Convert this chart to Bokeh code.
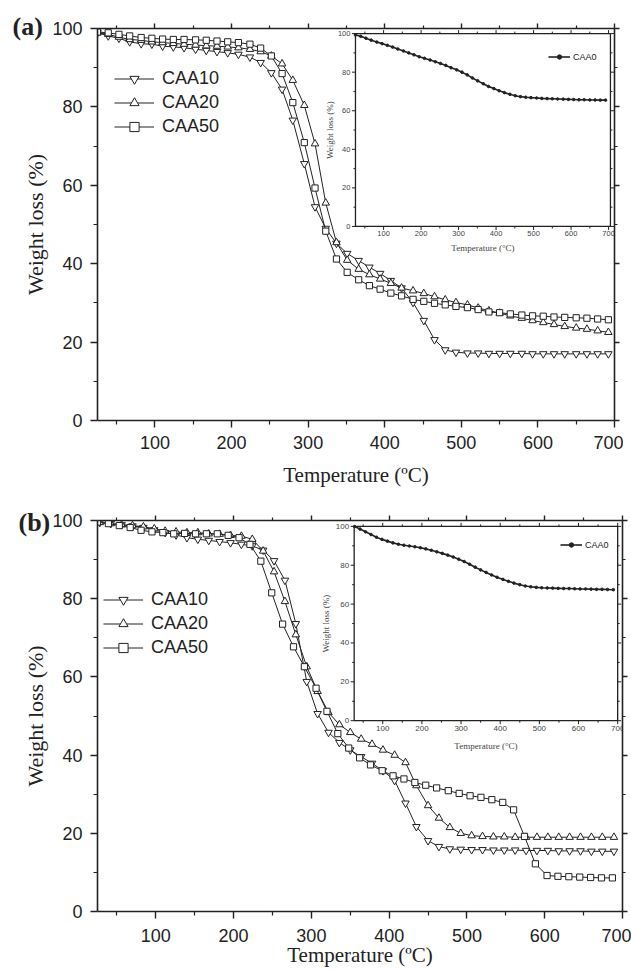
import math
from bokeh.plotting import figure
from bokeh.layouts import column
from bokeh.models import Range1d, LinearAxis, FixedTicker, Legend, LegendItem
from bokeh.core.properties import value
from bokeh.embed import file_html
from bokeh.resources import INLINE

# ---------------- data : panel (a) ----------------
temp_a = [25, 39, 53, 67, 82, 96, 110, 124, 138, 153, 167, 181, 195, 209, 224, 238,
          252, 266, 280, 295, 309, 323, 337, 351, 366, 380, 394, 408, 422, 437, 451, 465,
          479, 493, 508, 522, 536, 550, 564, 579, 593, 607, 621, 635, 650, 664, 678, 692]
caa10_a = [98.9, 98.1, 97.5, 96.6, 96.1, 96.0, 95.5, 95.3, 95.1, 94.7, 94.4, 94.1, 93.8, 93.4, 92.7, 91.3,
           88.7, 84.5, 76.6, 65.5, 54.5, 49.0, 45.2, 42.6, 40.8, 39.1, 37.5, 35.7, 33.8, 30.1, 25.5, 20.6,
           18.0, 17.4, 17.2, 17.2, 17.1, 17.1, 17.1, 17.1, 17.0, 17.0, 17.0, 17.0, 17.0, 17.0, 17.0, 17.0]
caa20_a = [98.9, 98.5, 97.8, 97.2, 97.0, 96.6, 96.4, 96.2, 96.0, 95.8, 95.6, 95.5, 95.3, 95.1, 94.7, 94.1,
           93.0, 91.0, 86.8, 80.4, 70.6, 55.5, 45.4, 40.9, 38.6, 37.2, 36.1, 35.0, 33.8, 33.1, 32.4, 31.6,
           30.8, 30.1, 29.5, 28.7, 28.0, 27.4, 26.7, 26.1, 25.5, 25.0, 24.5, 24.0, 23.6, 23.3, 22.9, 22.5]
caa50_a = [99.1, 98.9, 98.5, 98.1, 97.7, 97.5, 97.3, 97.2, 97.2, 97.1, 97.0, 96.8, 96.6, 96.4, 96.0, 95.0,
           93.0, 88.5, 81.1, 70.9, 59.3, 48.3, 41.2, 37.8, 35.9, 34.4, 33.5, 32.5, 31.8, 30.9, 30.4, 29.9,
           29.5, 29.1, 28.8, 28.3, 27.7, 27.5, 27.2, 26.9, 26.7, 26.6, 26.4, 26.3, 26.2, 26.1, 25.9, 25.7]
caa0_a = [99.3, 98.6, 97.6, 96.6, 95.6, 94.8, 93.9, 93.0, 92.0, 91.0, 90.0, 89.0, 88.0, 87.2, 86.3, 85.4,
          84.5, 83.5, 82.3, 81.2, 80.0, 78.6, 77.0, 75.5, 74.0, 72.6, 71.5, 70.4, 69.4, 68.5, 67.8, 67.3,
          67.0, 66.8, 66.6, 66.4, 66.3, 66.2, 66.1, 66.0, 65.9, 65.8, 65.7, 65.7, 65.6, 65.6, 65.5, 65.5]

# ---------------- data : panel (b) ----------------
temp_b = [28, 42, 56, 70, 84, 98, 112, 126, 140, 154, 168, 182, 196, 210, 224, 238,
          252, 266, 280, 294, 308, 322, 336, 350, 364, 378, 392, 407, 421, 435, 450, 464,
          478, 492, 506, 520, 534, 548, 562, 576, 590, 604, 618, 632, 646, 660, 674, 689]
temp_b50 = [25, 39, 53, 67, 81, 95, 109, 123, 137, 151, 165, 179, 193, 207, 221, 235,
            249, 263, 277, 291, 306, 320, 334, 348, 362, 376, 391, 405, 419, 433, 447, 461,
            476, 490, 504, 518, 532, 546, 560, 574, 588, 603, 617, 631, 645, 659, 673, 687]
caa10_b = [99.5, 99.2, 98.9, 98.6, 98.2, 97.6, 96.9, 96.3, 95.6, 95.2, 94.9, 94.6, 94.3, 93.9, 93.5, 92.4,
           89.7, 84.7, 73.6, 58.8, 50.6, 45.8, 43.2, 41.3, 39.6, 37.9, 36.0, 33.5, 27.7, 21.7, 18.1, 16.6,
           16.0, 15.9, 15.8, 15.8, 15.7, 15.7, 15.7, 15.6, 15.6, 15.6, 15.5, 15.5, 15.5, 15.4, 15.4, 15.4]
caa20_b = [99.5, 99.2, 98.9, 98.7, 98.4, 97.9, 97.3, 97.1, 96.9, 96.9, 96.6, 96.5, 96.2, 96.0, 95.2, 92.2,
           86.9, 79.3, 70.8, 62.6, 56.3, 50.9, 47.8, 45.8, 44.1, 42.8, 41.3, 40.0, 38.1, 32.2, 27.1, 23.9,
           21.5, 20.0, 19.4, 19.2, 19.1, 19.1, 19.0, 19.0, 19.0, 19.0, 19.0, 19.0, 19.0, 19.0, 19.0, 19.0]
caa50_b = [99.6, 99.2, 98.7, 98.2, 97.5, 97.1, 96.9, 96.6, 96.7, 96.6, 96.6, 96.6, 96.2, 95.6, 93.9, 89.6,
           81.5, 73.5, 67.7, 62.6, 57.1, 51.2, 45.5, 41.8, 39.3, 37.5, 36.0, 34.7, 33.9, 33.0, 32.3, 31.6,
           30.9, 30.2, 29.6, 29.2, 28.6, 27.9, 26.0, 19.2, 12.2, 9.2, 9.0, 8.9, 8.8, 8.7, 8.6, 8.6]
caa0_b = [99.9, 98.6, 97.2, 95.8, 94.4, 93.3, 92.4, 91.5, 90.8, 90.3, 89.9, 89.5, 89.0, 88.4, 87.7, 86.9,
          86.1, 85.2, 84.2, 83.1, 81.9, 80.5, 79.0, 77.6, 76.3, 75.0, 73.8, 72.7, 71.7, 70.8, 70.0, 69.3,
          68.9, 68.6, 68.4, 68.3, 68.2, 68.1, 68.0, 68.0, 67.9, 67.8, 67.8, 67.7, 67.6, 67.6, 67.5, 67.4]

series_names = ["CAA10", "CAA20", "CAA50"]
inset_name = "CAA0"
panel_tags = ["(a)", "(b)"]

# ---------------- ticks ----------------
x_major_ticks = [100, 200, 300, 400, 500, 600, 700]
x_minor_ticks = [50, 150, 250, 350, 450, 550, 650]
y_major_ticks = [0, 20, 40, 60, 80, 100]
y_minor_ticks = [10, 30, 50, 70, 90]
x_tick_labels = ["100", "200", "300", "400", "500", "600", "700"]
y_tick_labels = ["0", "20", "40", "60", "80", "100"]

INK = "#222222"
SANS = "Liberation Sans"
SERIF = "Liberation Serif"
MARKERS = [("inverted_triangle", 7.5), ("triangle", 7.5), ("square", 6.2)]


def style_axis(ax, ticks, minor, labels=True):
    ax.ticker = FixedTicker(ticks=ticks, minor_ticks=minor)
    ax.axis_line_color = INK
    ax.axis_line_width = 1.6
    ax.major_tick_line_color = INK
    ax.major_tick_line_width = 1.4
    ax.minor_tick_line_color = INK
    ax.minor_tick_line_width = 1.2
    ax.major_tick_in = 0
    ax.minor_tick_in = 0
    if labels:
        ax.major_tick_out = 7
        ax.minor_tick_out = 4
        ax.major_label_text_font = SANS
        ax.major_label_text_font_size = "18px"
        ax.major_label_text_color = INK
        ax.axis_label_text_font = SERIF
        ax.axis_label_text_font_size = "21px"
        ax.axis_label_text_font_style = "normal"
        ax.axis_label_text_color = INK
    else:
        ax.major_tick_out = 5
        ax.minor_tick_out = 3
        ax.major_label_overrides = {t: "" for t in ticks}
        ax.major_label_standoff = 0
        ax.major_label_text_font_size = "1px"


def build_panel(cfg, temps, vals, t0, w0):
    p = figure(width=cfg["width"], height=cfg["height"],
               x_range=Range1d(25, 700), y_range=Range1d(0, 100),
               output_backend="svg", toolbar_location=None,
               min_border_left=cfg["bl"], min_border_right=cfg["br"],
               min_border_top=cfg["bt"], min_border_bottom=cfg["bb"])
    p.xgrid.visible = False
    p.ygrid.visible = False
    p.outline_line_color = None
    p.background_fill_color = "white"
    p.border_fill_color = "white"

    xa = p.xaxis[0]
    ya = p.yaxis[0]
    style_axis(xa, x_major_ticks, x_minor_ticks)
    style_axis(ya, y_major_ticks, y_minor_ticks)
    xa.axis_label = "Temperature (ºC)"
    ya.axis_label = "Weight loss (%)"
    ya.axis_label_text_font_size = "22px"
    xa.major_label_standoff = cfg["xls"]
    xa.axis_label_standoff = cfg["xas"]
    ya.major_label_standoff = 8
    ya.axis_label_standoff = 1

    top = LinearAxis()
    style_axis(top, x_major_ticks, x_minor_ticks, labels=False)
    p.add_layout(top, "above")
    right = LinearAxis()
    style_axis(right, y_major_ticks, y_minor_ticks, labels=False)
    p.add_layout(right, "right")

    items = []
    for T, W, (mk, ms), name in zip(temps, vals, MARKERS, series_names):
        ln = p.line(T, W, line_color=INK, line_width=1.0)
        sc = p.scatter(T, W, marker=mk, size=ms, fill_color="white",
                       line_color=INK, line_width=1)
        items.append(LegendItem(label=name, renderers=[ln, sc]))
    leg = Legend(items=items, location=cfg["leg"], glyph_width=40, glyph_height=23,
                 label_height=23, spacing=1, label_standoff=8, padding=0, margin=0,
                 border_line_color=None, background_fill_alpha=0,
                 label_text_font=SANS, label_text_font_size="18px",
                 label_text_color=INK)
    p.add_layout(leg)

    # ----- inset -----
    sx0, sx1 = cfg["src_x"]
    sub = p.subplot(x_source=Range1d(sx0, sx1), y_source=Range1d(0, 100),
                    x_target=Range1d(*cfg["tgt_x"]), y_target=Range1d(*cfg["tgt_y"]))
    sub.quad(left=[sx0], right=[sx1], bottom=[0], top=[100], fill_color="white",
             line_color=INK, line_width=1.3)
    nx, nxm, ny, nym = len(x_major_ticks), len(x_minor_ticks), len(y_major_ticks), len(y_minor_ticks)
    tk = dict(length_units="screen", line_color=INK, line_width=1)
    sub.ray(x=x_major_ticks, y=[0] * nx, length=3.5, angle=-math.pi / 2, **tk)
    sub.ray(x=x_minor_ticks, y=[0] * nxm, length=2, angle=-math.pi / 2, **tk)
    sub.ray(x=x_major_ticks, y=[100] * nx, length=3.5, angle=math.pi / 2, **tk)
    sub.ray(x=x_minor_ticks, y=[100] * nxm, length=2, angle=math.pi / 2, **tk)
    sub.ray(x=[sx0] * ny, y=y_major_ticks, length=3.5, angle=math.pi, **tk)
    sub.ray(x=[sx0] * nym, y=y_minor_ticks, length=2, angle=math.pi, **tk)
    sub.ray(x=[sx1] * ny, y=y_major_ticks, length=3.5, angle=0, **tk)
    sub.ray(x=[sx1] * nym, y=y_minor_ticks, length=2, angle=0, **tk)

    fs = cfg["inset_fs"]
    sub.text(x=x_major_ticks, y=[0] * nx, text=x_tick_labels, text_font=value(SANS),
             text_font_size=fs, text_color="#444444", text_align="center",
             text_baseline="top", y_offset=cfg["xt_off"])
    sub.text(x=[sx0] * ny, y=y_major_ticks, text=y_tick_labels, text_font=value(SANS),
             text_font_size=fs, text_color="#444444", text_align="right",
             text_baseline="middle", x_offset=-5)
    sub.text(x=[(sx0 + sx1) / 2], y=[0], text=["Temperature (°C)"], text_font=value(SERIF),
             text_font_size="9px", text_color="#444444", text_align="center",
             text_baseline="top", y_offset=cfg["xl_off"])
    sub.text(x=[sx0], y=[50], text=["Weight loss (%)"], text_font=value(SERIF),
             text_font_size="9px", text_color="#444444", text_align="center",
             text_baseline="bottom", angle=math.pi / 2, x_offset=cfg["yl_off"])

    l0 = sub.line(t0, w0, line_color=INK, line_width=1.6)
    s0 = sub.scatter(t0, w0, marker="circle", size=2.6, fill_color=INK, line_color=INK)
    leg0 = Legend(items=[LegendItem(label=inset_name, renderers=[l0, s0])],
                  location=cfg["leg0"], glyph_width=22, glyph_height=11, label_height=11,
                  label_standoff=3, padding=0, margin=0, border_line_color=None,
                  background_fill_alpha=0, label_text_font=SANS,
                  label_text_font_size="9px", label_text_color=INK)
    p.add_layout(leg0)

    # panel tag, drawn unclipped at the level of the top-left corner of the frame
    p.text(x=[25], y=[100], text=[cfg["tag"]], x_offset=cfg["tag_dx"], y_offset=cfg["tag_dy"],
           text_font=value(SERIF), text_font_style="bold", text_font_size="26px",
           text_color=INK, text_align="left", text_baseline="middle", level="overlay")
    return p


cfg_a = dict(width=623, height=492, bl=97, br=9, bt=28, bb=72, xls=8, xas=11,
             leg=(17, 282), leg0=(451, 358), src_x=(25, 705),
             tgt_x=(361.8, 694.7), tgt_y=(49.5, 98.7), inset_fs="7.5px",
             xt_off=5, xl_off=17, yl_off=-20, tag=panel_tags[0], tag_dx=-85, tag_dy=-2)
cfg_b = dict(width=631, height=478, bl=91, br=8, bt=28, bb=59, xls=10, xas=-2,
             leg=(6, 252), leg0=(463, 361), src_x=(27, 700),
             tgt_x=(355.0, 693.8), tgt_y=(48.8, 98.5), inset_fs="8px",
             xt_off=5, xl_off=20, yl_off=-23, tag=panel_tags[1], tag_dx=-79, tag_dy=2)

pa = build_panel(cfg_a, [temp_a, temp_a, temp_a], [caa10_a, caa20_a, caa50_a], temp_a, caa0_a)
pb = build_panel(cfg_b, [temp_b, temp_b, temp_b50], [caa10_b, caa20_b, caa50_b], temp_b, caa0_b)

layout = column(pa, pb)
open("out.html", "w").write(file_html(layout, INLINE))
